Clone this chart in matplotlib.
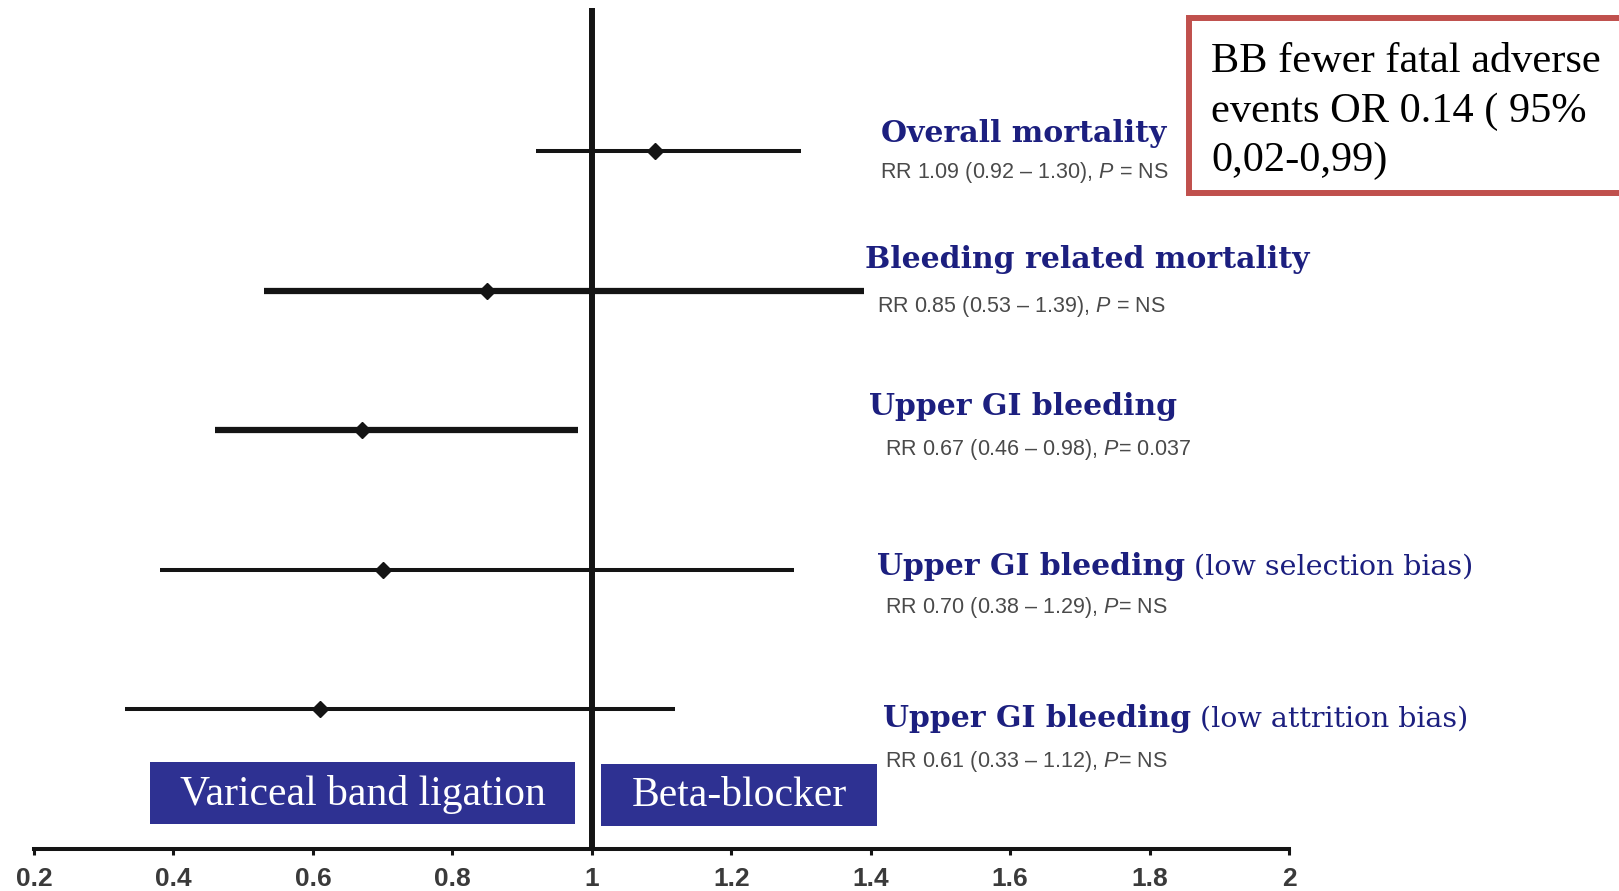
import matplotlib
matplotlib.use("Agg")
import matplotlib.pyplot as plt
from matplotlib.patches import Rectangle

# ---- data ----
outcomes = ["Overall mortality", "Bleeding related mortality", "Upper GI bleeding",
            "Upper GI bleeding", "Upper GI bleeding"]
qualifiers = ["", "", "", " (low selection bias)", " (low attrition bias)"]
rr = [1.09, 0.85, 0.67, 0.70, 0.61]
ci_low = [0.92, 0.53, 0.46, 0.38, 0.33]
ci_high = [1.30, 1.39, 0.98, 1.29, 1.12]
p_text = ["P = NS", "P = NS", "P= 0.037", "P= NS", "P= NS"]
xticks = [0.2, 0.4, 0.6, 0.8, 1, 1.2, 1.4, 1.6, 1.8, 2]
xticklabels = ["0.2", "0.4", "0.6", "0.8", "1", "1.2", "1.4", "1.6", "1.8", "2"]
left_label = "Variceal band ligation"
right_label = "Beta-blocker"
note_lines = ["BB fewer fatal adverse", "events OR 0.14 ( 95%", "0,02-0,99)"]

# ---- styles / layout ----
line_w = [2.9, 4.5, 4.5, 2.9, 2.9]
title_pos = [(881, 142), (865, 268), (869, 415), (877, 575), (883, 727)]
rr_pos = [(880, 178), (877, 312), (885, 455), (885, 613), (885, 767)]
note_base = [72, 122, 171]
W, H = 1619, 891
navy = "#1c1f7f"
boxcol = "#2e3192"
ink = "#141414"

plt.rcParams["mathtext.fontset"] = "custom"
plt.rcParams["mathtext.it"] = "Liberation Sans:italic"
plt.rcParams["mathtext.rm"] = "Liberation Sans"

fig = plt.figure(figsize=(W / 100, H / 100), dpi=100)
fig.patch.set_facecolor("white")

def fx(x):
    return x / W

def fy(y):
    return 1 - y / H

top_px, bot_px = 8, 849
row0, step = 151, 139.5
ax = fig.add_axes([fx(34), 1 - bot_px / H, (1289 - 34) / W, (bot_px - top_px) / H])
ax.set_xlim(0.2, 2)
ax.set_ylim((bot_px - row0) / step, (top_px - row0) / step)
for s in ["top", "left", "right"]:
    ax.spines[s].set_visible(False)
ax.spines["bottom"].set_linewidth(2.9)
ax.spines["bottom"].set_color(ink)
ax.set_yticks([])
ax.set_xticks(xticks)
ax.set_xticklabels(xticklabels, family="Liberation Sans",
                   fontsize=19, fontweight="bold", color="#3a3a3a")
ax.tick_params(axis="x", direction="out", length=4, width=2.2, color=ink, pad=9)
ax.patch.set_alpha(0)

ax.axvline(1, color=ink, lw=4.3, zorder=2)

ys = list(range(len(rr)))
for i in ys:
    ax.hlines(i, ci_low[i], ci_high[i], color=ink, lw=line_w[i], zorder=3)
ax.plot(rr, ys, "D", color=ink, markersize=8, zorder=4, linestyle="none")

# labels
for i in ys:
    x, y = title_pos[i]
    t = fig.text(fx(x), fy(y), outcomes[i], family="DejaVu Serif", fontweight="bold",
                 fontsize=21.5, color=navy, ha="left", va="baseline")
    if qualifiers[i]:
        ax.annotate(qualifiers[i], xy=(1, 0), xycoords=t, family="DejaVu Serif",
                    fontsize=20.5, color=navy, ha="left", va="bottom",
                    annotation_clip=False)
    x, y = rr_pos[i]
    p_rest = p_text[i][1:]
    s = f"RR {rr[i]:.2f} ({ci_low[i]:.2f} – {ci_high[i]:.2f}), $P${p_rest}"
    fig.text(fx(x), fy(y), s, family="Liberation Sans",
             fontsize=15.5, color="#4a4a4a", ha="left", va="baseline")

# treatment boxes
for (x0, y0, x1, y1), lbl in [((150, 762, 575, 824), left_label),
                              ((601, 764, 877, 826), right_label)]:
    fig.patches.append(Rectangle((fx(x0), fy(y1)), fx(x1) - fx(x0), fy(y0) - fy(y1),
                                 transform=fig.transFigure, facecolor=boxcol,
                                 edgecolor="none"))
    fig.text(fx((x0 + x1) / 2), fy((y0 + y1) / 2 + 1), lbl, family="Liberation Serif",
             fontsize=30, color="white", ha="center", va="center")

# note box
fig.patches.append(Rectangle((fx(1189), fy(193)), fx(1660) - fx(1189), fy(18) - fy(193),
                             transform=fig.transFigure, facecolor="white",
                             edgecolor="#c0504d", linewidth=4.3))
for line, yb in zip(note_lines, note_base):
    fig.text(fx(1211), fy(yb), line, family="Liberation Serif", fontsize=30.5,
             color="black", ha="left", va="baseline")

fig.savefig("out.png", dpi=100, facecolor="white")
